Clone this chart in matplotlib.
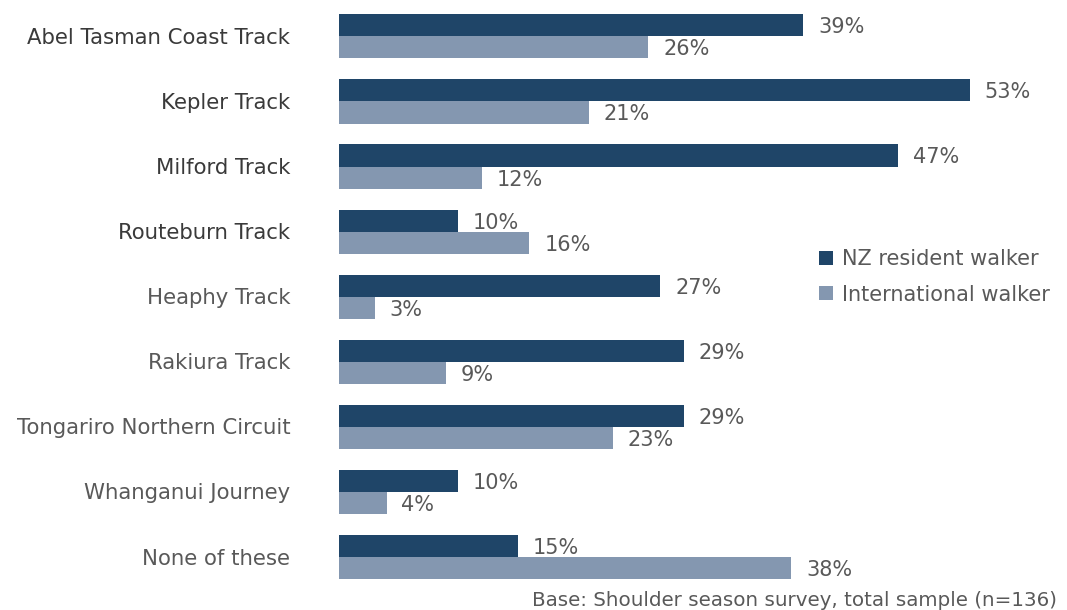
import matplotlib.pyplot as plt
import numpy as np

# Data
tracks = ['Abel Tasman Coast Track', 'Kepler Track', 'Milford Track', 'Routeburn Track',
          'Heaphy Track', 'Rakiura Track', 'Tongariro Northern Circuit',
          'Whanganui Journey', 'None of these']
nz_resident = [39, 53, 47, 10, 27, 29, 29, 10, 15]
international = [26, 21, 12, 16, 3, 9, 23, 4, 38]
emphasised = ['Abel Tasman Coast Track', 'Kepler Track', 'Milford Track', 'Routeburn Track']

dark = '#1f4568'
light = '#8497b0'
grey = '#595959'

plt.rcParams['font.family'] = ['DejaVu Sans']

fig = plt.figure(figsize=(10.67, 6.1), dpi=100)
W, H = 1067, 610
# axes: x from 339px to right edge, rows spaced ~65px
ax = fig.add_axes([339 / W, (610 - 589.8) / H, (W - 339) / W, 586 / H])

y = np.arange(len(tracks))
h = 0.34
ax.barh(y - h / 2, nz_resident, height=h, color=dark, label='NZ resident walker')
ax.barh(y + h / 2, international, height=h, color=light, label='International walker')

ax.set_xlim(0, (W - 339) / 11.9)
ax.set_ylim(len(tracks) - 0.5, -0.5)

for i in range(len(tracks)):
    ax.text(nz_resident[i] + 1.25, y[i] - h / 2 + 0.03, f'{nz_resident[i]}%',
            va='center', ha='left', fontsize=15, color=grey)
    ax.text(international[i] + 1.25, y[i] + h / 2 + 0.03, f'{international[i]}%',
            va='center', ha='left', fontsize=15, color=grey)
    # category labels
    if tracks[i] in emphasised:
        ax.text(-4.1, y[i] + 0.02, tracks[i], ha='right', va='center', fontsize=15.3,
                color='#3a3a3a')
    else:
        ax.text(-4.1, y[i] + 0.02, tracks[i], ha='right', va='center', fontsize=15.3,
                color=grey)

ax.set_xticks([])
ax.set_yticks([])
for s in ax.spines.values():
    s.set_visible(False)

leg = ax.legend(loc='upper left', bbox_to_anchor=(819 / W, 1 - 249 / H),
                bbox_transform=fig.transFigure, frameon=False, fontsize=15,
                handlelength=0.65, handleheight=0.65, handletextpad=0.45,
                labelspacing=0.75, borderpad=0, borderaxespad=0)
for t in leg.get_texts():
    t.set_color(grey)

fig.text(1057 / W, 1 - 600 / H, 'Base: Shoulder season survey, total sample (n=136)',
         ha='right', va='center', fontsize=14.3, color=grey)

fig.savefig('out.png', dpi=100)
